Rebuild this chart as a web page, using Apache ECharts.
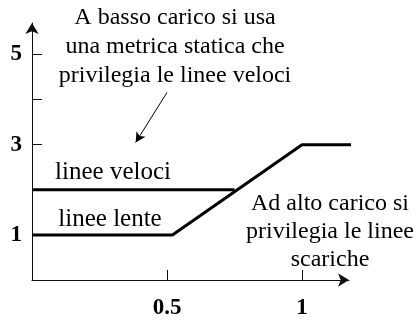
<!DOCTYPE html>
<html>
<head>
<meta charset="utf-8">
<script src="https://cdn.jsdelivr.net/npm/echarts@6/dist/echarts.min.js"></script>
<style>
    html, body { margin: 0; padding: 0; background: #fff; }
    #main { width: 417px; height: 322px; }
</style>
</head>
<body>
<div id="main"></div>
<script>
// carico (x) -> metrica (y)
var lineeLente = [[0, 1], [0.52, 1], [1, 3], [1.19, 3]];
var lineeVeloci = [[0, 2], [0.75, 2]];
var arrowFrom = [0.5, 4.16];
var arrowTo = [0.384, 3.05];

var yTicks = [1, 2, 3, 4, 5];
var yLabels = [1, 3, 5];
var xTicks = [0.5, 1];
var xLabels = [0.5, 1];

var topText = 'A basso carico si usa\nuna metrica statica che\nprivilegia le linee veloci';
var bottomText = 'Ad alto carico si\nprivilegia le linee\nscariche';
var labelVeloci = 'linee veloci';
var labelLente = 'linee lente';

var serif = '"Liberation Serif", "Times New Roman", serif';

var myChart = echarts.init(document.getElementById('main'));
var option = {
    animation: false,
    grid: {
        left: 32,
        right: 68,
        top: 23,
        bottom: 42
    },
    xAxis: {
        type: 'value',
        min: 0,
        max: 1.174,
        splitLine: { show: false },
        axisLine: {
            lineStyle: { color: '#111', width: 1 },
            symbol: ['none', 'arrow'],
            symbolSize: [10, 11]
        },
        axisTick: { inside: true, length: 10, customValues: xTicks, lineStyle: { color: '#111' } },
        axisLabel: {
            customValues: xLabels,
            margin: 17,
            color: '#000',
            fontFamily: serif,
            fontWeight: 'bold',
            fontSize: 23
        }
    },
    yAxis: {
        type: 'value',
        min: 0,
        max: 5.7,
        splitLine: { show: false },
        axisLine: {
            show: true,
            lineStyle: { color: '#111', width: 1 },
            symbol: ['none', 'arrow'],
            symbolSize: [10, 11]
        },
        axisTick: { show: true, inside: true, length: 10, customValues: yTicks, lineStyle: { color: '#111' } },
        axisLabel: {
            customValues: yLabels,
            margin: 10,
            color: '#000',
            fontFamily: serif,
            fontWeight: 'bold',
            fontSize: 23
        }
    },
    series: [
        {
            name: 'linee lente',
            type: 'line',
            data: lineeLente,
            showSymbol: false,
            clip: false,
            lineStyle: { color: '#000', width: 3 },
            emphasis: { disabled: true },
            markLine: {
                silent: true,
                symbol: ['none', 'arrow'],
                symbolSize: [8, 10],
                label: { show: false },
                lineStyle: { color: '#000', width: 1, type: 'solid' },
                data: [[{ coord: arrowFrom }, { coord: arrowTo }]]
            }
        },
        {
            name: 'linee veloci',
            type: 'line',
            data: lineeVeloci,
            showSymbol: false,
            clip: false,
            lineStyle: { color: '#000', width: 3 },
            emphasis: { disabled: true }
        }
    ],
    graphic: [
        {
            type: 'text', x: 175, y: 47,
            style: { text: topText, fill: '#000', fontFamily: serif, fontSize: 24, lineHeight: 29, align: 'center', verticalAlign: 'middle' }
        },
        {
            type: 'text', x: 330, y: 232,
            style: { text: bottomText, fill: '#000', fontFamily: serif, fontSize: 24, lineHeight: 28, align: 'center', verticalAlign: 'middle' }
        },
        {
            type: 'text', x: 113, y: 172,
            style: { text: labelVeloci, fill: '#000', fontFamily: serif, fontSize: 25, align: 'center', verticalAlign: 'middle' }
        },
        {
            type: 'text', x: 110, y: 219,
            style: { text: labelLente, fill: '#000', fontFamily: serif, fontSize: 25, align: 'center', verticalAlign: 'middle' }
        }
    ]
};
myChart.setOption(option);
</script>
</body>
</html>
